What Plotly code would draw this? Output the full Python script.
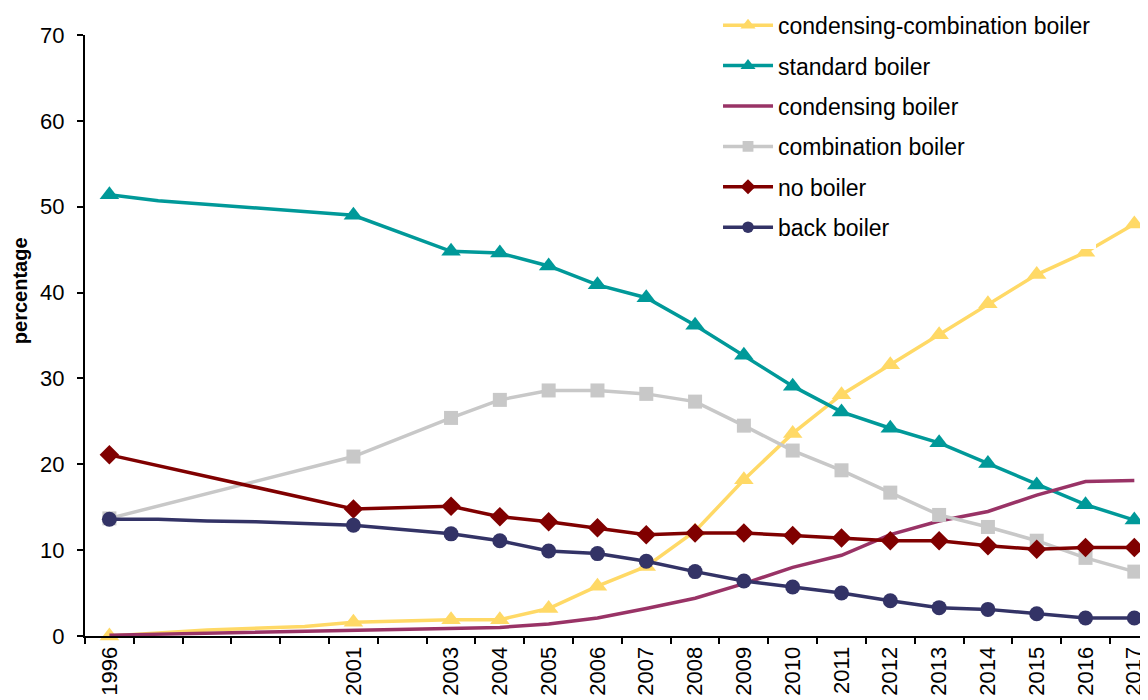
import plotly.graph_objects as go

years = ['1996', '1997', '1998', '1999', '2000', '2001', '2002', '2003', '2004', '2005', '2006',
         '2007', '2008', '2009', '2010', '2011', '2012', '2013', '2014', '2015', '2016', '2017']

tick_labels = ['1996', '', '', '', '', '2001', '', '2003', '2004', '2005', '2006',
               '2007', '2008', '2009', '2010', '2011', '2012', '2013', '2014', '2015', '2016', '2017']

# None = year not in the survey, line joins across it
cond_comb = [0.0, None, 0.7, None, 1.1, 1.6, None, 1.9, 1.9, 3.2, 5.8,
             8.1, 12.2, 18.2, 23.6, 28.1, 31.6, 35.1, 38.7, 42.1, 44.7, 48.0]
standard = [51.4, 50.7, None, None, None, 49.0, None, 44.8, 44.6, 43.1, 40.9,
            39.4, 36.2, 32.7, 29.1, 26.1, 24.2, 22.5, 20.1, 17.6, 15.3, 13.5]
condensing = [0.1, None, None, None, 0.5, 0.7, None, 0.8, 1.0, 1.4, 2.1,
              3.2, 4.4, 6.1, 8.0, 9.4, 11.8, 13.4, 14.5, 16.4, 18.0, 18.1]
combination = [13.7, None, None, None, None, 20.9, None, 25.4, 27.5, 28.6, 28.6,
               28.2, 27.3, 24.5, 21.6, 19.3, 16.7, 14.1, 12.7, 11.1, 9.1, 7.5]
no_boiler = [21.1, None, None, None, None, 14.8, None, 15.1, 13.9, 13.3, 12.6,
             11.8, 12.0, 12.0, 11.7, 11.4, 11.1, 11.1, 10.5, 10.1, 10.3, 10.3]
back_boiler = [13.6, 13.6, 13.4, 13.3, None, 12.9, None, 11.9, 11.1, 9.9, 9.6,
               8.7, 7.5, 6.4, 5.7, 5.0, 4.1, 3.3, 3.1, 2.6, 2.1, 2.1]

series = [
    ('condensing-combination boiler', cond_comb, '#FFD966', 'triangle-up', 17),
    ('standard boiler', standard, '#009999', 'triangle-up', 17),
    ('condensing boiler', condensing, '#993366', None, 0),
    ('combination boiler', combination, '#C8C8C8', 'square', 14),
    ('no boiler', no_boiler, '#800000', 'diamond', 15),
    ('back boiler', back_boiler, '#333366', 'circle', 15),
]

fig = go.Figure()

for name, vals, color, symbol, size in series:
    # markers only on the labelled survey years
    sizes = [size if lab else 0 for lab in tick_labels]
    fig.add_trace(go.Scatter(
        x=years, y=vals, name=name, legendgroup=name,
        mode='lines+markers' if symbol else 'lines',
        connectgaps=True, cliponaxis=False,
        line=dict(color=color, width=3.5),
        marker=dict(symbol=symbol or 'circle', size=sizes, color=color,
                    opacity=1, line=dict(width=0)),
    ))

fig.add_annotation(
    text='<b>percentage</b>', textangle=-90,
    xref='paper', yref='paper', x=-0.061, y=0.574,
    xanchor='center', yanchor='middle', showarrow=False,
    font=dict(size=20, color='black'),
)

# page body has an 8px margin, so the figure is 8px smaller and margins shifted
fig.update_layout(
    width=1140, height=692,
    margin=dict(l=77, r=0, t=27, b=64, autoexpand=False),
    paper_bgcolor='white', plot_bgcolor='white',
    font=dict(family='Arial, Liberation Sans, sans-serif', color='black', size=22),
    showlegend=True,
    legend=dict(
        x=0.5955, y=1.052, xanchor='left', yanchor='top',
        bgcolor='white', font=dict(size=23),
        tracegroupgap=7.5, itemwidth=50,
    ),
    xaxis=dict(
        type='category', range=[-0.5, 21.28], automargin=False,
        tickmode='array', tickvals=years, ticktext=tick_labels,
        tickson='boundaries', tickangle=-90,
        ticks='outside', ticklen=6, tickwidth=1.5, tickcolor='black',
        showline=True, linecolor='black', linewidth=2,
        showgrid=False, zeroline=False,
        tickfont=dict(size=22),
    ),
    yaxis=dict(
        range=[0, 70], dtick=10, automargin=False,
        ticks='outside', ticklen=6, tickwidth=1.5, tickcolor='black',
        ticklabelstandoff=8,
        showline=True, linecolor='black', linewidth=2,
        showgrid=False, zeroline=False,
        tickfont=dict(size=22),
    ),
)

fig.write_html("out.html")
